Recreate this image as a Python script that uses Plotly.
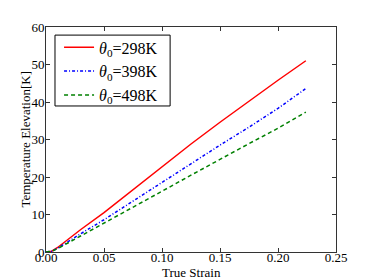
import plotly.graph_objects as go

strain = [0, 0.005, 0.01, 0.02, 0.03, 0.05, 0.075, 0.10, 0.125, 0.15, 0.175, 0.20, 0.224]
t298 = [0, 0.2, 1.2, 3.7, 6.0, 10.5, 16.6, 22.8, 28.8, 34.6, 40.3, 45.8, 51.0]
t398 = [0, 0.2, 1.0, 3.0, 4.9, 8.6, 13.6, 18.7, 23.6, 28.5, 33.3, 38.3, 43.6]
t498 = [0, 0.2, 0.9, 2.6, 4.3, 7.5, 11.8, 16.2, 20.5, 24.8, 28.9, 33.0, 37.3]
names = ["<i>θ</i><sub>0</sub>=298K", "<i>θ</i><sub>0</sub>=398K", "<i>θ</i><sub>0</sub>=498K"]
x_title = "True Strain"
y_title = "Temperature Elevation[K]"

fig = go.Figure()
fig.add_trace(go.Scatter(x=strain, y=t298, mode="lines", name=names[0],
                         line=dict(color="#ff0000", width=1.5)))
fig.add_trace(go.Scatter(x=strain, y=t398, mode="lines", name=names[1],
                         line=dict(color="#0000ff", width=1.5, dash="3px,2px,1px,2px")))
fig.add_trace(go.Scatter(x=strain, y=t498, mode="lines", name=names[2],
                         line=dict(color="#008000", width=1.5, dash="4px,3px")))

axis_common = dict(showgrid=False, zeroline=False, showline=True, linecolor="#333333",
                   linewidth=1, mirror="ticks", ticks="inside", ticklen=4, automargin=False,
                   tickcolor="#333333", tickfont=dict(family="Liberation Serif", size=13, color="black"))
fig.update_layout(
    width=374, height=280,
    margin=dict(l=46, r=38, t=27, b=28),
    paper_bgcolor="white", plot_bgcolor="white",
    font=dict(family="Liberation Serif", color="black"),
    xaxis=dict(range=[0, 0.25], dtick=0.05, tickformat=".2f", ticklabelstandoff=-7, **axis_common),
    yaxis=dict(range=[0, 60], dtick=10, ticklabelstandoff=-2, **axis_common),
    legend=dict(x=0.045, y=0.985, xanchor="left", yanchor="top",
                borderwidth=0, bgcolor="rgba(0,0,0,0)",
                font=dict(family="Liberation Serif", size=16), tracegroupgap=0),
    shapes=[dict(type="rect", xref="paper", yref="paper", x0=0.031, x1=0.428,
                 y0=0.649, y1=0.964, line=dict(color="black", width=1), fillcolor="white",
                 layer="above")],
    annotations=[
        dict(text=x_title, xref="paper", yref="paper", x=0.5, y=-0.093, xanchor="center",
             yanchor="middle", showarrow=False, font=dict(size=13)),
        dict(text=y_title, xref="paper", yref="paper", x=-0.072, y=0.5, xanchor="center",
             yanchor="middle", showarrow=False, textangle=-90, font=dict(size=13)),
    ],
)
fig.write_html("out.html", config={"displayModeBar": False},
               post_script="document.body.style.margin='0px';")
